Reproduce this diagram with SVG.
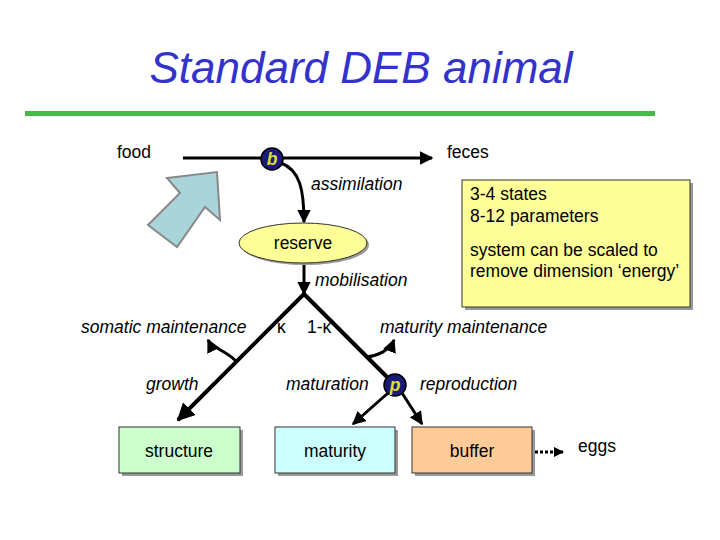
<svg xmlns="http://www.w3.org/2000/svg" width="720" height="540" viewBox="0 0 720 540">
<defs>
<marker id="ah" viewBox="0 0 10 10" refX="9" refY="5" markerWidth="4.5" markerHeight="4.5" orient="auto"><path d="M0,0L10,5L0,10z" fill="#000"/></marker>
<marker id="ah2" viewBox="0 0 10 10" refX="9" refY="5" markerWidth="3.5" markerHeight="3.5" orient="auto"><path d="M0,0L10,5L0,10z" fill="#000"/></marker>
</defs>
<style>
text{font-family:"Liberation Sans",Arial,sans-serif;font-size:17.5px;fill:#000}
.i{font-style:italic}
.box{stroke:#333;stroke-width:1}
.sh{fill:#999}
.ln{fill:none;stroke:#000;stroke-width:4}
.th{fill:none;stroke:#000;stroke-width:3}
.c{fill:#1a1a7a;stroke:#000;stroke-width:1.5}
</style>
<rect width="720" height="540" fill="#fff"/>
<text x="361" y="83" text-anchor="middle" class="i" style="font-size:44px;fill:#3333cc">Standard DEB animal</text>
<rect x="25" y="111" width="630" height="5" fill="#44bb44"/>
<polygon points="148,225 180,193 167,178 217,172 220,220 205,207 177,247" fill="#a9d4da" stroke="#888" stroke-width="2"/>
<g id="connectors">
<line x1="183" y1="158" x2="432" y2="158" class="th" marker-end="url(#ah)"/>
<path d="M281,163 C300,170 304,190 304,222" class="th" marker-end="url(#ah)"/>
<line x1="304" y1="264" x2="304" y2="294" class="th" marker-end="url(#ah)"/>
<path d="M304,294 L178,420" class="ln" marker-end="url(#ah)"/>
<path d="M304,294 L387,377" class="ln"/>
<path d="M236,361 C225,350 212,348 208,340" class="th" marker-end="url(#ah)"/>
<path d="M366,357 C378,356 390,350 394,340" class="th" marker-end="url(#ah)"/>
<line x1="388" y1="393" x2="353" y2="424" class="th" marker-end="url(#ah)"/>
<line x1="402" y1="393" x2="422" y2="424" class="th" marker-end="url(#ah)"/>
<line x1="535" y1="452" x2="563" y2="452" stroke="#000" stroke-width="3" stroke-dasharray="3,2" marker-end="url(#ah2)"/>
</g>
<g id="b"><circle cx="272" cy="159" r="11" class="c"/><text x="272" y="165" text-anchor="middle" class="i" style="font-weight:bold;fill:#dddd33">b</text></g>
<g id="p"><circle cx="395" cy="385" r="11" class="c"/><text x="395" y="391" text-anchor="middle" class="i" style="font-weight:bold;fill:#dddd33">p</text></g>
<g id="reserve"><ellipse cx="305" cy="245" rx="64" ry="20" class="sh"/><ellipse cx="303" cy="243" rx="64" ry="20" fill="#ffff99" stroke="#333"/><text x="303" y="249" text-anchor="middle">reserve</text></g>
<g id="info"><rect x="465" y="183" width="228" height="127" class="sh"/><rect x="462" y="180" width="228" height="127" fill="#ffff99" stroke="#333"/>
<text x="470" y="200">3-4 states</text><text x="470" y="222">8-12 parameters</text>
<text x="470" y="256">system can be scaled to</text><text x="470" y="277">remove dimension ‘energy’</text></g>
<g id="structure"><rect x="122" y="430" width="121" height="46" class="sh"/><rect x="119" y="427" width="121" height="46" fill="#ccffcc" class="box"/><text x="179" y="457" text-anchor="middle">structure</text></g>
<g id="maturity"><rect x="278" y="430" width="120" height="46" class="sh"/><rect x="275" y="427" width="120" height="46" fill="#ccffff" class="box"/><text x="335" y="457" text-anchor="middle">maturity</text></g>
<g id="buffer"><rect x="415" y="430" width="120" height="46" class="sh"/><rect x="412" y="427" width="120" height="46" fill="#ffcc99" class="box"/><text x="472" y="457" text-anchor="middle">buffer</text></g>
<text x="117" y="158">food</text>
<text x="447" y="158">feces</text>
<text x="311" y="190" class="i">assimilation</text>
<text x="315" y="286" class="i">mobilisation</text>
<text x="81" y="333" class="i">somatic maintenance</text>
<text x="277" y="333">κ</text>
<text x="307" y="333">1-κ</text>
<text x="380" y="333" class="i">maturity maintenance</text>
<text x="146" y="390" class="i">growth</text>
<text x="286" y="390" class="i">maturation</text>
<text x="420" y="390" class="i">reproduction</text>
<text x="578" y="452">eggs</text>
</svg>
